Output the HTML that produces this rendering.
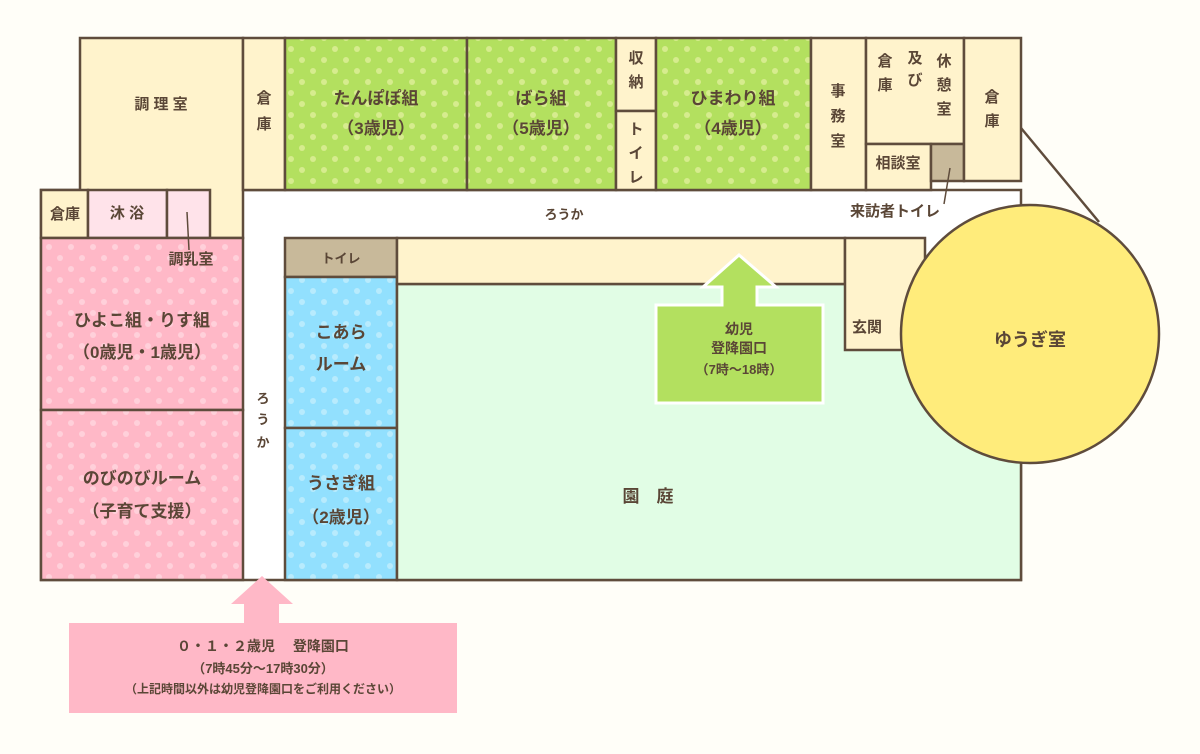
<!DOCTYPE html>
<html><head><meta charset="utf-8"><style>
html,body{margin:0;padding:0;background:#fffef8;}
svg{display:block}
text{font-family:"Liberation Sans","Noto Sans CJK JP",sans-serif;fill:#5a4636;font-weight:bold;}
</style></head><body>
<svg width="1200" height="754" viewBox="0 0 1200 754" xmlns="http://www.w3.org/2000/svg">
<defs>
<pattern id="pg" width="22" height="22" patternUnits="userSpaceOnUse"><rect width="22" height="22" fill="#b3e05f"/><circle cx="5" cy="5" r="3" fill="#d6ec8e"/><circle cx="16" cy="16" r="3" fill="#d6ec8e"/></pattern>
<pattern id="pp" width="22" height="22" patternUnits="userSpaceOnUse"><rect width="22" height="22" fill="#ffb8c7"/><circle cx="5" cy="5" r="3" fill="#ffd0da"/><circle cx="16" cy="16" r="3" fill="#ffd0da"/></pattern>
<pattern id="pb" width="22" height="22" patternUnits="userSpaceOnUse"><rect width="22" height="22" fill="#92e0fe"/><circle cx="5" cy="5" r="3" fill="#b8ebfd"/><circle cx="16" cy="16" r="3" fill="#b8ebfd"/></pattern>
</defs>
<g stroke="#5f4c3c" stroke-width="2.5">
<rect x="41" y="190" width="980" height="390" fill="#ffffff"/>
<rect x="80" y="38" width="163" height="200" fill="#fff3cc"/>
<rect x="243" y="38" width="42" height="152" fill="#fff3cc"/>
<rect x="285" y="38" width="182" height="152" fill="url(#pg)"/>
<rect x="467" y="38" width="149" height="152" fill="url(#pg)"/>
<rect x="616" y="38" width="40" height="73" fill="#fff3cc"/>
<rect x="616" y="111" width="40" height="79" fill="#fff3cc"/>
<rect x="656" y="38" width="155" height="152" fill="url(#pg)"/>
<rect x="811" y="38" width="55" height="152" fill="#fff3cc"/>
<rect x="866" y="38" width="98" height="106" fill="#fff3cc"/>
<rect x="866" y="144" width="65" height="46" fill="#fff3cc"/>
<rect x="931" y="144" width="33" height="37" fill="#c8b99a"/>
<rect x="964" y="38" width="57" height="143" fill="#fff3cc"/>
<rect x="41" y="190" width="47" height="48" fill="#fff3cc"/>
<rect x="88" y="190" width="79" height="48" fill="#ffe3ea"/>
<rect x="167" y="190" width="43" height="48" fill="#ffe3ea"/>
<rect x="41" y="238" width="202" height="172" fill="url(#pp)"/>
<rect x="41" y="410" width="202" height="170" fill="url(#pp)"/>
<rect x="285" y="238" width="112" height="39" fill="#c8b99a"/>
<rect x="285" y="277" width="112" height="151" fill="url(#pb)"/>
<rect x="285" y="428" width="112" height="152" fill="url(#pb)"/>
<rect x="397" y="284" width="624" height="296" fill="#e1fde5"/>
<rect x="397" y="238" width="448" height="46" fill="#fff3cc"/>
<rect x="845" y="238" width="80" height="112" fill="#fff3cc"/>
<line x1="1021" y1="128" x2="1099" y2="222"/>
<circle cx="1030" cy="334" r="129" fill="#ffec7b"/>
<line x1="187" y1="212" x2="189" y2="250" stroke-width="1.5"/>
<line x1="950" y1="168" x2="944" y2="204" stroke-width="1.5"/>
</g>
<path d="M739,255 L776,287 L757,287 L757,305 L823,305 L823,403 L656,403 L656,305 L722,305 L722,287 L703,287 Z" fill="#b3e05f" stroke="#fff" stroke-width="3"/>
<path d="M262,576 L293,604 L279,604 L279,623 L457,623 L457,713 L69,713 L69,623 L244,623 L244,604 L231,604 Z" fill="#ffb8c7"/>
<g font-size="15" text-anchor="middle">
<text x="161" y="109">調 理 室</text>
<text x="264" y="103">倉</text><text x="264" y="129">庫</text>
<text x="376" y="104" font-size="17">たんぽぽ組</text><text x="376" y="134" font-size="17">（3歳児）</text>
<text x="541" y="104" font-size="17">ばら組</text><text x="541" y="134" font-size="17">（5歳児）</text>
<text x="636" y="63">収</text><text x="636" y="87">納</text>
<text x="636" y="134">ト</text><text x="636" y="158">イ</text><text x="636" y="182">レ</text>
<text x="733" y="104" font-size="17">ひまわり組</text><text x="733" y="134" font-size="17">（4歳児）</text>
<text x="838" y="96">事</text><text x="838" y="121">務</text><text x="838" y="146">室</text>
<text x="885" y="66">倉</text><text x="885" y="90">庫</text>
<text x="915" y="63">及</text><text x="915" y="85">び</text>
<text x="944" y="66">休</text><text x="944" y="90">憩</text><text x="944" y="114">室</text>
<text x="898" y="168">相談室</text>
<text x="992" y="102">倉</text><text x="992" y="126">庫</text>
<text x="895" y="216">来訪者トイレ</text>
<text x="564" y="219" font-size="13">ろうか</text>
<text x="65" y="219">倉庫</text>
<text x="127" y="218">沐 浴</text>
<text x="191" y="264">調乳室</text>
<text x="142" y="326" font-size="17">ひよこ組・りす組</text>
<text x="142" y="358" font-size="17">（0歳児・1歳児）</text>
<text x="142" y="484" font-size="17">のびのびルーム</text>
<text x="142" y="517" font-size="17">（子育て支援）</text>
<text x="263" y="403" font-size="13">ろ</text><text x="263" y="424" font-size="13">う</text><text x="263" y="447" font-size="13">か</text>
<text x="341" y="263" font-size="13">トイレ</text>
<text x="341" y="338" font-size="17">こあら</text><text x="341" y="370" font-size="17">ルーム</text>
<text x="341" y="489" font-size="17">うさぎ組</text><text x="341" y="523" font-size="17">（2歳児）</text>
<text x="867" y="332">玄関</text>
<text x="1030" y="346" font-size="18">ゆうぎ室</text>
<text x="648" y="502" font-size="17">園　庭</text>
<text x="739" y="334" font-size="14">幼児</text>
<text x="739" y="353" font-size="14">登降園口</text>
<text x="739" y="374" font-size="13">（7時～18時）</text>
<text x="263" y="651" font-size="14">０・１・２歳児　 登降園口</text>
<text x="263" y="673" font-size="13">（7時45分～17時30分）</text>
<text x="263" y="693" font-size="12">（上記時間以外は幼児登降園口をご利用ください）</text>
</g>
</svg>
</body></html>
